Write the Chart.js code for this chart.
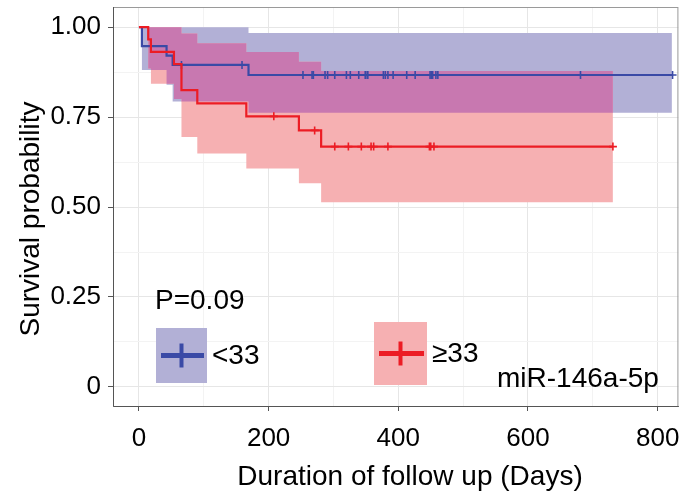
<!DOCTYPE html>
<html><head><meta charset="utf-8">
<script src="https://cdn.jsdelivr.net/npm/chart.js@4/dist/chart.umd.min.js"></script>
<style>html,body{margin:0;padding:0;background:#fff;overflow:hidden}#wrap{width:684px;height:498px;position:relative}</style>
</head><body><div id="wrap"><canvas id="c"></canvas></div>
<script>
// ---- data ----
// group "<33"
const lowTimes  = [0, 4.6, 42.6, 52, 169];
const lowSurv   = [1, 0.947, 0.921, 0.895, 0.867];
const lowUpper  = [1, 1, 1, 1, 0.984];
const lowLower  = [1, 0.881, 0.84, 0.793, 0.762];
const lowEnd = 823;
const lowBandEnd = 822;
const lowCensor = [65.6, 159, 253, 267, 269, 287, 291, 302, 320, 326, 339, 349, 350, 353, 377, 380, 384, 392, 413, 426, 449, 451, 453, 458, 461, 681, 823];
// group ">=33"
const highTimes = [0, 14.3, 18.5, 54, 65.6, 90, 165.6, 246.7, 281];
const highSurv  = [1, 0.966, 0.931, 0.897, 0.825, 0.788, 0.752, 0.713, 0.668];
const highUpper = [1, 1, 1, 1, 0.982, 0.955, 0.931, 0.904, 0.878];
const highLower = [1, 0.885, 0.843, 0.80, 0.695, 0.649, 0.607, 0.566, 0.513];
const highEnd = 731;
const highCensor = [208, 271, 302, 323, 343, 358, 362, 384, 448, 450, 455, 731];

const groupLabels = ['<33', '\u226533'];
const pText = 'P=0.09';
const geneText = 'miR-146a-5p';
const xTitle = 'Duration of follow up (Days)';
const yTitle = 'Survival probability';
const xTicks = [0, 200, 400, 600, 800];
const yTicks = [0, 0.25, 0.5, 0.75, 1];
const yTickLabels = ['0', '0.25', '0.50', '0.75', '1.00'];

// ---- styling ----
const BLUE = '#3a4aa6', RED = '#ec1c24';
const BLUE_BAND = '#b2b0d6', RED_BAND = '#f6b0b2', OVER_BAND = '#c878b0';
const FONT = "'Liberation Sans', Arial, sans-serif";
const STEP = 'before'; // horizontal first, then vertical (Kaplan-Meier step)

function stepAt(times, vals, t) {
  let v = vals[0];
  for (let i = 0; i < times.length; i++) if (times[i] <= t) v = vals[i];
  return v;
}
function stepPts(times, vals, end) {
  const p = times.map((t, i) => ({x: t, y: vals[i]}));
  p.push({x: end, y: vals[vals.length - 1]});
  return p;
}
// overlap of the two confidence bands
const ovTimes = Array.from(new Set(lowTimes.concat(highTimes))).filter(t => t <= highEnd).sort((a, b) => a - b);
const ovUpper = ovTimes.map(t => Math.min(stepAt(lowTimes, lowUpper, t), stepAt(highTimes, highUpper, t)));
const ovLower = ovTimes.map(t => Math.max(stepAt(lowTimes, lowLower, t), stepAt(highTimes, highLower, t)));
const ovEnd = Math.min(lowBandEnd, highEnd);

const band = (data, order, fill, color) => ({data, order, stepped: STEP, borderWidth: 0, pointRadius: 0,
  fill: fill === null ? false : {target: fill}, backgroundColor: color, borderColor: 'transparent'});

const datasets = [
  band(stepPts(lowTimes, lowUpper, lowBandEnd), 20, null, BLUE_BAND),          //0
  band(stepPts(lowTimes, lowLower, lowBandEnd), 19, 0, BLUE_BAND),             //1
  band(stepPts(highTimes, highUpper, highEnd), 18, null, RED_BAND),            //2
  band(stepPts(highTimes, highLower, highEnd), 17, 2, RED_BAND),               //3
  band(stepPts(ovTimes, ovUpper, ovEnd), 16, null, OVER_BAND),                 //4
  band(stepPts(ovTimes, ovLower, ovEnd), 15, 4, OVER_BAND),                    //5
  {data: stepPts(lowTimes, lowSurv, lowEnd), order: 6, stepped: STEP, borderColor: BLUE, borderWidth: 2.2, pointRadius: 0, fill: false},
  {data: stepPts(highTimes, highSurv, highEnd), order: 4, stepped: STEP, borderColor: RED, borderWidth: 2.2, pointRadius: 0, fill: false},
  {data: lowCensor.map(t => ({x: t, y: stepAt(lowTimes, lowSurv, t)})), order: 5, showLine: false,
   pointStyle: 'cross', pointRadius: 4, borderColor: BLUE, borderWidth: 1.6, fill: false},
  {data: highCensor.map(t => ({x: t, y: stepAt(highTimes, highSurv, t)})), order: 3, showLine: false,
   pointStyle: 'cross', pointRadius: 4, borderColor: RED, borderWidth: 1.6, fill: false}
];

const decor = {
  id: 'decor',
  afterDatasetsDraw(chart) {
    const {ctx, chartArea: a} = chart;
    ctx.save();
    ctx.strokeStyle = '#9a9a9a'; ctx.lineWidth = 1;
    ctx.strokeRect(a.left + 0.5, a.top + 0.5, a.right - a.left - 1, a.bottom - a.top);
    ctx.strokeStyle = '#555'; ctx.beginPath();
    ctx.moveTo(a.left + 0.5, a.top); ctx.lineTo(a.left + 0.5, a.bottom + 0.5); ctx.lineTo(a.right, a.bottom + 0.5); ctx.stroke();
    // annotation / legend
    ctx.fillStyle = '#000'; ctx.textBaseline = 'middle'; ctx.textAlign = 'left';
    ctx.font = '28px ' + FONT;
    ctx.fillText(pText, 155, 301);
    const keys = [{x: 156, y: 328, w: 51, h: 55, band: BLUE_BAND, line: BLUE, label: groupLabels[0]},
                  {x: 374, y: 322, w: 53, h: 63, band: RED_BAND, line: RED, label: groupLabels[1]}];
    keys.forEach(k => {
      ctx.fillStyle = k.band; ctx.fillRect(k.x, k.y, k.w, k.h);
      const cx = k.x + k.w / 2, cy = k.y + k.h / 2;
      ctx.strokeStyle = k.line; ctx.lineWidth = 5; ctx.lineCap = 'butt';
      ctx.beginPath(); ctx.moveTo(k.x + 5, cy); ctx.lineTo(k.x + k.w - 3, cy); ctx.stroke();
      ctx.lineWidth = 4; ctx.beginPath(); ctx.moveTo(cx, cy - 12); ctx.lineTo(cx, cy + 12); ctx.stroke();
      ctx.fillStyle = '#000'; ctx.fillText(k.label, k.x + k.w + 5, cy + 1);
    });
    ctx.fillText(geneText, 497, 379);
    // axis titles
    ctx.textAlign = 'center';
    ctx.fillText(xTitle, 410, 477);
    ctx.translate(31, 219); ctx.rotate(-Math.PI / 2);
    ctx.fillText(yTitle, 0, 0);
    ctx.restore();
  }
};

new Chart(document.getElementById('c'), {
  type: 'line',
  data: {datasets},
  plugins: [decor],
  options: {
    responsive: true, maintainAspectRatio: false, animation: false,
    devicePixelRatio: 1,
    layout: {padding: {top: 7, right: 4, left: 0, bottom: 0}},
    plugins: {legend: {display: false}, tooltip: {enabled: false}, filler: {propagate: false}},
    scales: {
      x: {
        type: 'linear', min: -40, max: 832,
        afterBuildTicks: s => { s.ticks = []; for (let v = 0; v <= 800; v += 100) s.ticks.push({value: v}); },
        afterFit: s => { s.height = 92; s.paddingLeft = 0; s.paddingRight = 0; s.paddingTop = 0; s.paddingBottom = 0; },
        grid: {color: c => (c.tick && c.tick.value % 200 === 0) ? '#e6e6e6' : '#f3f3f3',
               tickColor: c => (c.tick && xTicks.includes(c.tick.value)) ? '#555' : 'rgba(0,0,0,0)', tickLength: 5},
        border: {display: true, color: '#555'},
        ticks: {color: '#000', font: {family: FONT, size: 26}, padding: 12, maxRotation: 0, autoSkip: false,
                callback: v => xTicks.includes(v) ? String(v) : ''}
      },
      y: {
        type: 'linear', min: -0.053, max: 1.056,
        afterBuildTicks: s => { s.ticks = []; for (let i = 0; i <= 8; i++) s.ticks.push({value: i * 0.125}); },
        afterFit: s => { s.width = 113; s.paddingLeft = 0; s.paddingRight = 0; s.paddingTop = 0; s.paddingBottom = 0; },
        grid: {color: c => (c.tick && yTicks.some(t => Math.abs(t - c.tick.value) < 1e-9)) ? '#e6e6e6' : '#f3f3f3',
               tickColor: c => (c.tick && yTicks.some(t => Math.abs(t - c.tick.value) < 1e-9)) ? '#555' : 'rgba(0,0,0,0)', tickLength: 5},
        border: {display: true, color: '#555'},
        ticks: {color: '#000', font: {family: FONT, size: 26}, padding: 7, autoSkip: false,
                callback: v => { const i = yTicks.findIndex(t => Math.abs(t - v) < 1e-9); return i >= 0 ? yTickLabels[i] : ''; }}
      }
    }
  }
});
</script></body></html>
